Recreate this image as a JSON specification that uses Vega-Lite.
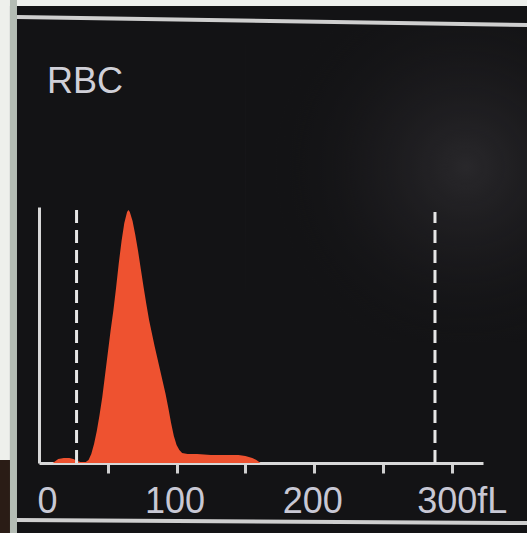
{
  "$schema": "https://vega.github.io/schema/vega-lite/v6.json",
  "width": 444,
  "height": 256,
  "autosize": {"type": "none"},
  "padding": {"left": 39, "top": 207, "right": 44, "bottom": 70},
  "background": "#131315",
  "config": {"view": {"stroke": null}},
  "datasets": {
    "hist": [
      {"fL": 0, "count": 0}, {"fL": 10, "count": 0}, {"fL": 12, "count": 2}, {"fL": 14, "count": 4},
      {"fL": 18, "count": 5}, {"fL": 22, "count": 5}, {"fL": 25, "count": 4}, {"fL": 28, "count": 2},
      {"fL": 30, "count": 1}, {"fL": 34, "count": 1}, {"fL": 36, "count": 3}, {"fL": 38, "count": 9},
      {"fL": 40, "count": 19}, {"fL": 42, "count": 32}, {"fL": 44, "count": 48}, {"fL": 46, "count": 66},
      {"fL": 48, "count": 88}, {"fL": 50, "count": 110}, {"fL": 52, "count": 132}, {"fL": 54, "count": 152},
      {"fL": 56, "count": 175}, {"fL": 58, "count": 200}, {"fL": 60, "count": 222}, {"fL": 62, "count": 240},
      {"fL": 64, "count": 251}, {"fL": 65, "count": 253}, {"fL": 66, "count": 251}, {"fL": 68, "count": 242},
      {"fL": 70, "count": 228}, {"fL": 72, "count": 212}, {"fL": 74, "count": 194}, {"fL": 76, "count": 176},
      {"fL": 78, "count": 159}, {"fL": 80, "count": 143}, {"fL": 82, "count": 130}, {"fL": 84, "count": 117},
      {"fL": 86, "count": 105}, {"fL": 88, "count": 93}, {"fL": 90, "count": 81}, {"fL": 92, "count": 69},
      {"fL": 94, "count": 55}, {"fL": 96, "count": 40}, {"fL": 98, "count": 27}, {"fL": 100, "count": 18},
      {"fL": 102, "count": 13}, {"fL": 104, "count": 10}, {"fL": 108, "count": 9}, {"fL": 115, "count": 9},
      {"fL": 125, "count": 8}, {"fL": 135, "count": 8}, {"fL": 145, "count": 8}, {"fL": 150, "count": 7},
      {"fL": 155, "count": 5}, {"fL": 158, "count": 3}, {"fL": 161, "count": 0}, {"fL": 170, "count": 0}
    ],
    "gates": [{"fL": 27.3, "lo": 0, "hi": 253}, {"fL": 287.8, "lo": 0, "hi": 251}],
    "whiteBands": [
      {"x0": -28.4, "x1": -21.1, "y0": 3, "y1": 463},
      {"x0": -28.4, "x1": 354.7, "y0": 457, "y1": 463}
    ],
    "darkCorner": [{"x0": -28.4, "x1": -21.1, "y0": -70, "y1": 3}],
    "grayStrip": [{"x0": -21.1, "x1": -16.0, "y0": -70, "y1": 463}],
    "glare": [{"x0": 150, "x1": 354.7, "y0": 120, "y1": 440}],
    "frame": [
      {"x0": -16.0, "x1": 354.7, "y0": 446, "y1": 438},
      {"x0": -16.0, "x1": 354.7, "y0": -57, "y1": -60}
    ],
    "label": [{"fL": 5.8, "count": 370, "text": "RBC"}]
  },
  "layer": [
    {
      "data": {"name": "whiteBands"},
      "mark": {"type": "rect", "color": "#eef0ec", "clip": false},
      "encoding": {
        "x": {"field": "x0", "type": "quantitative", "title": null},
        "x2": {"field": "x1"},
        "y": {"field": "y0", "type": "quantitative", "title": null},
        "y2": {"field": "y1"}
      }
    },
    {
      "data": {"name": "darkCorner"},
      "mark": {"type": "rect", "color": "#2a1c16", "clip": false},
      "encoding": {
        "x": {"field": "x0", "type": "quantitative", "title": null},
        "x2": {"field": "x1"},
        "y": {"field": "y0", "type": "quantitative", "title": null},
        "y2": {"field": "y1"}
      }
    },
    {
      "data": {"name": "grayStrip"},
      "mark": {"type": "rect", "color": "#b4bcb4", "clip": false},
      "encoding": {
        "x": {"field": "x0", "type": "quantitative", "title": null},
        "x2": {"field": "x1"},
        "y": {"field": "y0", "type": "quantitative", "title": null},
        "y2": {"field": "y1"}
      }
    },
    {
      "data": {"name": "glare"},
      "mark": {
        "type": "rect",
        "clip": false,
        "color": {
          "gradient": "radial",
          "x1": 0.75, "y1": 0.45, "x2": 0.75, "y2": 0.45, "r1": 0, "r2": 0.6,
          "stops": [
            {"offset": 0, "color": "rgba(58,56,60,0.55)"},
            {"offset": 0.5, "color": "rgba(40,38,42,0.3)"},
            {"offset": 1, "color": "rgba(19,19,21,0)"}
          ]
        }
      },
      "encoding": {
        "x": {"field": "x0", "type": "quantitative", "title": null},
        "x2": {"field": "x1"},
        "y": {"field": "y0", "type": "quantitative", "title": null},
        "y2": {"field": "y1"}
      }
    },
    {
      "data": {"name": "hist"},
      "mark": {"type": "area", "color": "#ee5230", "interpolate": "linear"},
      "encoding": {
        "x": {
          "field": "fL",
          "type": "quantitative",
          "scale": {"domain": [0, 322.7], "nice": false, "zero": false},
          "axis": {
            "title": null,
            "grid": false,
            "values": [0, 50, 100, 150, 200, 250, 300],
            "labelExpr": "datum.value == 300 ? '300fL' : (datum.value % 100 == 0 ? datum.label : '')",
            "labelFont": "Liberation Sans",
            "labelFontSize": 36,
            "labelColor": "#c8c8d4",
            "labelPadding": 11,
            "labelFlush": false,
            "labelOverlap": false,
            "labelOffset": {
              "condition": [
                {"test": "datum.value == 0", "value": 8},
                {"test": "datum.value == 300", "value": 10}
              ],
              "value": -2
            },
            "domainColor": "#d8d8d8",
            "domainWidth": 3,
            "tickColor": {"condition": {"test": "datum.value == 0", "value": "transparent"}, "value": "#d0d0d0"},
            "tickWidth": 3,
            "tickSize": 10
          }
        },
        "y": {
          "field": "count",
          "type": "quantitative",
          "scale": {"domain": [0, 256], "nice": false},
          "axis": {
            "title": null,
            "grid": false,
            "ticks": false,
            "labels": false,
            "domainColor": "#d8d8d8",
            "domainWidth": 3
          }
        }
      }
    },
    {
      "data": {"name": "gates"},
      "mark": {"type": "rule", "color": "#e6e6e6", "strokeWidth": 3, "strokeDash": [13, 7]},
      "encoding": {
        "x": {"field": "fL", "type": "quantitative", "title": null},
        "y": {"field": "lo", "type": "quantitative", "title": null},
        "y2": {"field": "hi"}
      }
    },
    {
      "data": {"name": "frame"},
      "mark": {"type": "rule", "color": "#cfcfcf", "strokeWidth": 4, "clip": false},
      "encoding": {
        "x": {"field": "x0", "type": "quantitative", "title": null},
        "x2": {"field": "x1"},
        "y": {"field": "y0", "type": "quantitative", "title": null},
        "y2": {"field": "y1"}
      }
    },
    {
      "data": {"name": "label"},
      "mark": {"type": "text", "align": "left", "baseline": "alphabetic", "font": "Liberation Sans", "fontSize": 36, "color": "#d0d0d8", "clip": false},
      "encoding": {
        "x": {"field": "fL", "type": "quantitative", "title": null},
        "y": {"field": "count", "type": "quantitative", "title": null},
        "text": {"field": "text"}
      }
    }
  ]
}
